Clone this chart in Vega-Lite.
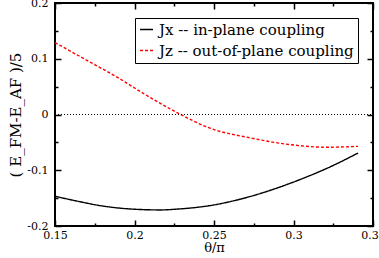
{
  "$schema": "https://vega.github.io/schema/vega-lite/v6.json",
  "width": 318,
  "height": 223,
  "autosize": {"type": "none"},
  "padding": {"left": 55, "top": 3, "right": 6, "bottom": 32},
  "background": "white",
  "config": {
    "view": {"stroke": "black", "strokeWidth": 2},
    "font": "DejaVu Serif",
    "axis": {
      "grid": false,
      "domain": false,
      "zindex": 2,
      "labelFont": "DejaVu Serif",
      "labelFontSize": 11,
      "labelColor": "black",
      "titleFont": "DejaVu Serif",
      "titleColor": "black",
      "titleFontWeight": "normal"
    },
    "legend": {
      "labelFont": "DejaVu Serif",
      "labelFontSize": 15,
      "labelColor": "black",
      "labelLimit": 400
    }
  },
  "datasets": {
    "curves": [
      {"theta": 0.15, "E": -0.1467, "series": "Jx -- in-plane coupling"},
      {"theta": 0.165, "E": -0.1560, "series": "Jx -- in-plane coupling"},
      {"theta": 0.1783, "E": -0.1634, "series": "Jx -- in-plane coupling"},
      {"theta": 0.192, "E": -0.1683, "series": "Jx -- in-plane coupling"},
      {"theta": 0.2053, "E": -0.1706, "series": "Jx -- in-plane coupling"},
      {"theta": 0.216, "E": -0.1712, "series": "Jx -- in-plane coupling"},
      {"theta": 0.2267, "E": -0.1697, "series": "Jx -- in-plane coupling"},
      {"theta": 0.2475, "E": -0.1634, "series": "Jx -- in-plane coupling"},
      {"theta": 0.2726, "E": -0.1472, "series": "Jx -- in-plane coupling"},
      {"theta": 0.2997, "E": -0.1215, "series": "Jx -- in-plane coupling"},
      {"theta": 0.3248, "E": -0.0916, "series": "Jx -- in-plane coupling"},
      {"theta": 0.3406, "E": -0.0691, "series": "Jx -- in-plane coupling"},
      {"theta": 0.15, "E": 0.129, "series": "Jz -- out-of-plane coupling"},
      {"theta": 0.1695, "E": 0.098, "series": "Jz -- out-of-plane coupling"},
      {"theta": 0.189, "E": 0.067, "series": "Jz -- out-of-plane coupling"},
      {"theta": 0.2066, "E": 0.036, "series": "Jz -- out-of-plane coupling"},
      {"theta": 0.2267, "E": 0.0035, "series": "Jz -- out-of-plane coupling"},
      {"theta": 0.2475, "E": -0.0246, "series": "Jz -- out-of-plane coupling"},
      {"theta": 0.2726, "E": -0.0418, "series": "Jz -- out-of-plane coupling"},
      {"theta": 0.2978, "E": -0.0540, "series": "Jz -- out-of-plane coupling"},
      {"theta": 0.3211, "E": -0.0587, "series": "Jz -- out-of-plane coupling"},
      {"theta": 0.3406, "E": -0.0571, "series": "Jz -- out-of-plane coupling"}
    ],
    "zero": [{"x0": 0.15, "x1": 0.35, "y": 0}]
  },
  "layer": [
    {
      "data": {"name": "curves"},
      "mark": {"type": "line", "interpolate": "monotone", "strokeWidth": 1.4},
      "encoding": {
        "x": {
          "field": "theta", "type": "quantitative",
          "scale": {"domain": [0.15, 0.35], "nice": false, "zero": false},
          "axis": {
            "orient": "bottom",
            "values": [0.15, 0.175, 0.2, 0.225, 0.25, 0.275, 0.3, 0.325, 0.35],
            "labelExpr": "abs(datum.value*20 - round(datum.value*20)) < 0.001 ? '' + datum.value : ''",
            "ticks": true,
            "tickColor": "black",
            "tickOpacity": 1,
            "tickWidth": 1.5,
            "tickSize": 6,
            "offset": -6,
            "tickDash": {"condition": {"test": "abs(datum.value*20 - round(datum.value*20)) < 0.001", "value": [6, 0]}, "value": [0, 3, 3, 10]},
            "labelPadding": 3,
            "labelFlush": false,
            "labelOverlap": false,
            "title": "θ/π",
            "titleFontSize": 13,
            "titlePadding": 1
          }
        },
        "y": {
          "field": "E", "type": "quantitative",
          "scale": {"domain": [-0.2, 0.2], "nice": false},
          "axis": {
            "orient": "left",
            "values": [-0.2, -0.15, -0.1, -0.05, 0, 0.05, 0.1, 0.15, 0.2],
            "labelExpr": "abs(datum.value*10 - round(datum.value*10)) < 0.001 ? '' + datum.value : ''",
            "ticks": true,
            "tickColor": "black",
            "tickOpacity": 1,
            "tickWidth": 1.5,
            "tickSize": 6,
            "offset": -6,
            "tickDash": {"condition": {"test": "abs(datum.value*10 - round(datum.value*10)) < 0.001", "value": [6, 0]}, "value": [0, 3, 3, 10]},
            "labelPadding": 7,
            "labelFlush": false,
            "labelOverlap": false,
            "title": "( E_FM-E_AF )/5",
            "titleFontSize": 15,
            "titlePadding": 3
          }
        },
        "color": {
          "field": "series", "type": "nominal",
          "scale": {"domain": ["Jx -- in-plane coupling", "Jz -- out-of-plane coupling"], "range": ["black", "red"]},
          "legend": {
            "title": null,
            "orient": "none",
            "legendX": 80,
            "legendY": 15,
            "strokeColor": "black",
            "fillColor": "white",
            "padding": 4,
            "rowPadding": 5,
            "symbolType": "stroke",
            "symbolSize": 169,
            "symbolStrokeWidth": 1.4,
            "labelOffset": 5
          }
        },
        "strokeDash": {
          "field": "series", "type": "nominal",
          "scale": {"domain": ["Jx -- in-plane coupling", "Jz -- out-of-plane coupling"], "range": [[1, 0], [3, 2]]},
          "legend": null
        }
      }
    },
    {
      "data": {"name": "zero"},
      "mark": {"type": "rule", "color": "black", "strokeDash": [1, 2], "strokeWidth": 1},
      "encoding": {
        "x": {
          "field": "x0", "type": "quantitative",
          "axis": {
            "orient": "top",
            "values": [0.15, 0.175, 0.2, 0.225, 0.25, 0.275, 0.3, 0.325, 0.35],
            "ticks": true,
            "tickColor": "black",
            "tickOpacity": 1,
            "tickWidth": 1.5,
            "tickSize": 6,
            "offset": -6,
            "tickDash": {"condition": {"test": "abs(datum.value*20 - round(datum.value*20)) < 0.001", "value": [6, 0]}, "value": [0, 3, 3, 10]},
            "labels": false,
            "title": null
          }
        },
        "x2": {"field": "x1"},
        "y": {
          "field": "y", "type": "quantitative",
          "axis": {
            "orient": "right",
            "values": [-0.2, -0.15, -0.1, -0.05, 0, 0.05, 0.1, 0.15, 0.2],
            "ticks": true,
            "tickColor": "black",
            "tickOpacity": 1,
            "tickWidth": 1.5,
            "tickSize": 6,
            "offset": -6,
            "tickDash": {"condition": {"test": "abs(datum.value*10 - round(datum.value*10)) < 0.001", "value": [6, 0]}, "value": [0, 3, 3, 10]},
            "labels": false,
            "title": null
          }
        }
      }
    }
  ],
  "resolve": {"axis": {"x": "independent", "y": "independent"}}
}
